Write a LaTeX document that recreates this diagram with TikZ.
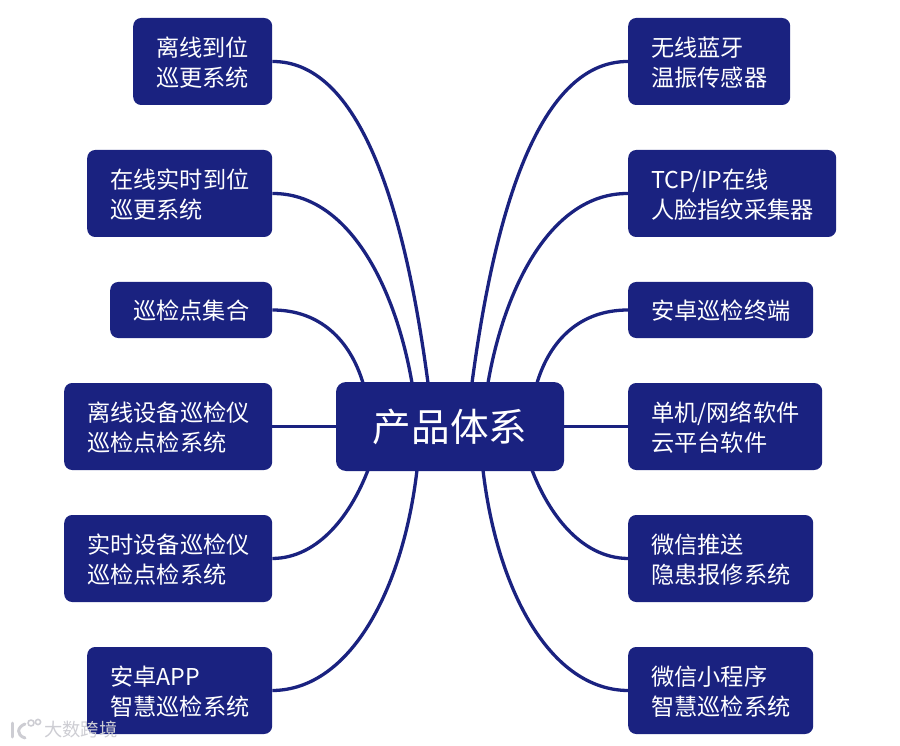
\documentclass[tikz,border=0pt]{standalone}
\usepackage{fontspec}
\setmainfont{Noto Sans CJK SC}
\hfuzz=20pt
\definecolor{navy}{HTML}{1A2280}
\definecolor{mark}{HTML}{CDCDD3}
\tikzset{
  x=1pt,y=-1pt,
  leafbox/.style={draw=none,fill=navy,rounded corners=8pt,text=white,align=left,anchor=west,
    inner xsep=23pt,inner ysep=0pt,minimum height=87pt,font=\fontsize{23.2}{30}\selectfont,
    execute at begin node={\vadjust pre{\kern2pt}}},
  shortbox/.style={leafbox,minimum height=56pt},
  hubbox/.style={draw=none,fill=navy,rounded corners=10pt,text=white,minimum width=228pt,minimum height=89pt,
    font=\fontsize{38.6}{44}\selectfont},
  link/.style={draw=navy,line width=3.3pt,line cap=butt},
  wm/.style={text=mark,font=\fontsize{18.3}{20}\selectfont,inner sep=0pt},
  wmline/.style={draw=mark,line width=3pt,line cap=round,line join=round}
}
\begin{document}
\begin{tikzpicture}
\useasboundingbox (0,0) rectangle (900,746);
% coordinates on the hub border
\coordinate (t1) at (428,383);
\coordinate (t2) at (412,383);
\coordinate (t3) at (363,383);
\coordinate (t4) at (472,383);
\coordinate (t5) at (488,383);
\coordinate (t6) at (537,383);
\coordinate (b1) at (368,470);
\coordinate (b2) at (417,470);
\coordinate (b3) at (483,470);
\coordinate (b4) at (532,470);
% boxes
\node[hubbox] (hub) at (450,426.5) {\raisebox{-1.2pt}{产品体系}};
\node[leafbox,minimum width=139pt,text width=93pt] (l1) at (133,61.5) {离线到位\\巡更系统};
\node[leafbox,minimum width=185pt,text width=139pt] (l2) at (87,193.5) {在线实时到位\\巡更系统};
\node[shortbox,minimum width=162pt,text width=116pt] (l3) at (110,310) {巡检点集合};
\node[leafbox,minimum width=208pt,text width=162pt] (l4) at (64,426.5) {离线设备巡检仪\\巡检点检系统};
\node[leafbox,minimum width=208pt,text width=162pt] (l5) at (64,558.5) {实时设备巡检仪\\巡检点检系统};
\node[leafbox,minimum width=185pt,text width=139pt] (l6) at (87,690.5) {安卓APP\\智慧巡检系统};
\node[leafbox,minimum width=162pt,text width=116pt] (r1) at (628,61.5) {无线蓝牙\\温振传感器};
\node[leafbox,minimum width=208pt,text width=162pt] (r2) at (628,193.5) {TCP/IP在线\\人脸指纹采集器};
\node[shortbox,minimum width=185pt,text width=139pt] (r3) at (628,310) {安卓巡检终端};
\node[leafbox,minimum width=194pt,text width=148pt] (r4) at (628,426.5) {单机/网络软件\\云平台软件};
\node[leafbox,minimum width=185pt,text width=139pt] (r5) at (628,558.5) {微信推送\\隐患报修系统};
\node[leafbox,minimum width=185pt,text width=139pt] (r6) at (628,690.5) {微信小程序\\智慧巡检系统};
% connectors
\draw[link] (l1.east) .. controls (365,61) and (407,225) .. (t1);
\draw[link] (l2.east) .. controls (350,193) and (396,290) .. (t2);
\draw[link] (l3.east) .. controls (320,310) and (350,340) .. (t3);
\draw[link] (l4.east) -- (hub.west);
\draw[link] (l5.east) .. controls (320,558) and (352,512) .. (b1);
\draw[link] (l6.east) .. controls (350,690) and (403,590) .. (b2);
\draw[link] (r1.west) .. controls (535,61) and (493,225) .. (t4);
\draw[link] (r2.west) .. controls (550,193) and (504,290) .. (t5);
\draw[link] (r3.west) .. controls (580,310) and (550,340) .. (t6);
\draw[link] (r4.west) -- (hub.east);
\draw[link] (r5.west) .. controls (580,558) and (548,512) .. (b4);
\draw[link] (r6.west) .. controls (550,690) and (497,590) .. (b3);
% watermark
\node[wm,anchor=west] (wmtext) at (44,730) {大数跨境};
\draw[wmline] (12,723) -- (12,737);
\draw[wmline] (25,724) .. controls (17,727) and (16,735) .. (25,738);
\draw[wmline,line width=1.6pt] (31,723) circle (3pt);
\draw[wmline,line width=1.6pt] (38,722) circle (2.6pt);
\end{tikzpicture}
\end{document}
